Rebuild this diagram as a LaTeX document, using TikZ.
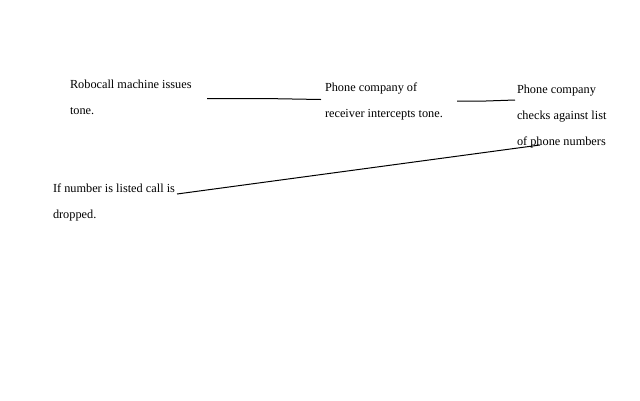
\documentclass[tikz,border=0pt]{standalone}
\usepackage{fontspec}
\setmainfont{Liberation Serif}
\begin{document}
\begin{tikzpicture}[x=1pt,y=-1pt,
  txt/.style={anchor=base west,inner sep=0pt,outer sep=0pt,font=\fontsize{12.3}{14}\selectfont,text=black},
  link/.style={draw=black,line width=1pt}]
\useasboundingbox[fill=white] (0,0) rectangle (640,400);
% block 1
\node[txt] (a1) at (70,88) {Robocall machine issues};
\node[txt] (a2) at (70,114) {tone.};
% block 2
\node[txt] (b1) at (325,91) {Phone company of};
\node[txt] (b2) at (325,117) {receiver intercepts tone.};
% block 3
\node[txt] (c1) at (517,93) {Phone company};
\node[txt] (c2) at (517,119) {checks against list};
\node[txt] (c3) at (517,145) {of phone numbers};
% block 4
\node[txt] (d1) at (53,192) {If number is listed call is};
\node[txt] (d2) at (53,218) {dropped.};
% connector ends
\coordinate (l1s) at (207,98.5);
\coordinate (l1m) at (264,98.5);
\coordinate (l1e) at (321,99.5);
\coordinate (l2s) at (457,101);
\coordinate (l2m) at (486,101);
\coordinate (l2e) at (515,100);
\coordinate (l3s) at (177,194);
\coordinate (l3e) at (540,145);
\draw[link] (l1s) -- (l1m) -- (l1e);
\draw[link] (l2s) -- (l2m) -- (l2e);
\draw[link] (l3s) -- (l3e);
\end{tikzpicture}
\end{document}
